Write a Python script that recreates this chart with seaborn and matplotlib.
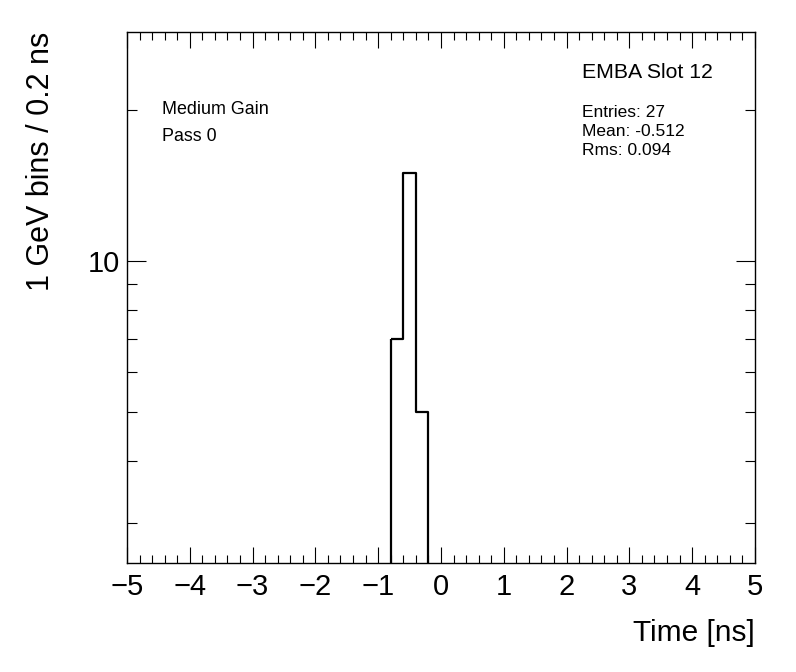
"""Histograma de tempo (EMBA slot 12) no estilo ROOT, eixo y logaritmico."""

import matplotlib

matplotlib.use("Agg")

import matplotlib.pyplot as plt
import pandas as pd
import seaborn as sns
from matplotlib.ticker import (FixedFormatter, FixedLocator, LogLocator,
                               MultipleLocator, NullFormatter)

# dados
bin_edges = [-0.8, -0.6, -0.4, -0.2]
bin_centers = [-0.7, -0.5, -0.3]
counts = [7, 15, 5]

x_range = (-5, 5)
y_range = (2.5, 28.6)
y_major = [10]
y_major_labels = ["10"]

info_title = "EMBA Slot 12"
info_lines = ["Entries: 27", "Mean: -0.512", "Rms: 0.094"]
tag_lines = ["Medium Gain", "Pass 0"]

sns.set_style("ticks")
plt.rcParams["font.family"] = ["Liberation Sans", "DejaVu Sans"]
plt.rcParams["text.color"] = "black"
plt.rcParams["axes.labelcolor"] = "black"

fig = plt.figure(figsize=(7.96, 6.72), dpi=100)
ax = fig.add_axes([0.1595, 0.1622, 0.7889, 0.7902])

df = pd.DataFrame({"time": bin_centers, "n": counts})
sns.histplot(data=df, x="time", weights="n", bins=bin_edges, element="step",
             fill=True, color="black", facecolor="none", edgecolor="black",
             linewidth=1.6, ax=ax)
ax.set_yscale("log")
ax.set_xlim(x_range)
ax.set_ylim(y_range)

ax.xaxis.set_major_locator(MultipleLocator(1))
ax.xaxis.set_minor_locator(MultipleLocator(0.2))
ax.yaxis.set_major_locator(FixedLocator(y_major))
ax.yaxis.set_major_formatter(FixedFormatter(y_major_labels))
ax.yaxis.set_minor_locator(LogLocator(base=10, subs=range(2, 10)))
ax.yaxis.set_minor_formatter(NullFormatter())

ax.tick_params(which="both", direction="in", top=True, right=True,
               color="black", width=0.8, labelcolor="black")
ax.tick_params(axis="x", which="major", length=11.5, labelsize=21, pad=7)
ax.tick_params(axis="x", which="minor", length=5.8)
ax.tick_params(axis="y", which="major", length=13.7, labelsize=21, pad=5)
ax.tick_params(axis="y", which="minor", length=7.2)
for spine in ax.spines.values():
    spine.set_linewidth(1.0)
    spine.set_color("black")

ax.set_xlabel("Time [ns]", fontsize=21.5, loc="right")
ax.xaxis.set_label_coords(1.0, -0.105)
ax.set_ylabel("1 GeV bins / 0.2 ns", fontsize=22, loc="top")
ax.yaxis.set_label_coords(-0.113, 1.0)

ax.text(0.7245, 0.9135, info_title, transform=ax.transAxes, fontsize=15.3,
        va="baseline")
for i, line in enumerate(info_lines):
    ax.text(0.7245, 0.839 - i * 0.0357, line, transform=ax.transAxes,
            fontsize=12.5, va="baseline")
for i, line in enumerate(tag_lines):
    ax.text(0.0553, 0.845 - i * 0.051, line, transform=ax.transAxes,
            fontsize=12.9, va="baseline")

fig.savefig("out.png", dpi=100)
plt.close(fig)
